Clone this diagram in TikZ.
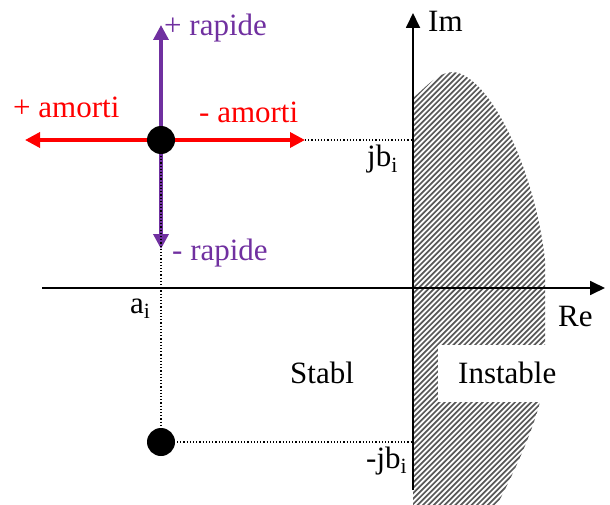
\documentclass[tikz,border=0pt]{standalone}
\usepackage{fontspec}
\setmainfont{Liberation Serif}
\usetikzlibrary{arrows.meta}
\definecolor{violetpp}{RGB}{112,48,160}
\begin{document}
\begin{tikzpicture}[x=1pt,y=-1pt,
  lbl/.style={inner sep=0pt,anchor=base west,font=\fontsize{31}{36}\selectfont},
  redarr/.style={draw=red,line width=3.5pt,-{Triangle[length=15pt,width=15pt]}},
  purarr/.style={draw=violetpp,line width=3.5pt,-{Triangle[length=15pt,width=15pt]}},
  axisline/.style={line width=1.8pt,-{Triangle[length=15pt,width=14pt]}},
  guide/.style={dotted,line width=1.2pt},
  hatchline/.style={line width=1.7pt,draw=black!65},
  pole/.style={circle,fill=black,minimum size=28pt,inner sep=0pt}]
\useasboundingbox (0,0) rectangle (610,505);
% unstable half-plane (hatched)
\begin{scope}
\clip (413,98) .. controls (425,88) and (438,72) .. (453,72)
 .. controls (490,75) and (535,170) .. (545,260) -- (545,345) -- (540,402)
 .. controls (530,440) and (510,480) .. (497,505) -- (413,505) -- cycle;
\foreach \k in {0,...,120} {
  \draw[hatchline] ({-100+5.4*\k},515) -- ++(460,-460);
}
\end{scope}
\fill[white] (438,345) rectangle (560,402);
% axes
\coordinate (O) at (413,288);
\coordinate (xL) at (42,288);
\coordinate (xR) at (605,288);
\coordinate (yB) at (413,490);
\coordinate (yT) at (413,13);
\draw[axisline] (xL) -- (xR);
\draw[axisline] (yB) -- (yT);
% poles and arrows
\coordinate (P1) at (161,140);
\coordinate (P2) at (161,442);
\coordinate (aL) at (25,140);
\coordinate (aR) at (305,140);
\coordinate (aU) at (161,25);
\coordinate (aD) at (161,249);
\coordinate (jT) at (413,140);
\coordinate (jB) at (413,442);
\draw[purarr] (P1) -- (aU);
\draw[purarr] (P1) -- (aD);
\draw[redarr] (P1) -- (aL);
\draw[redarr] (P1) -- (aR);
\draw[guide] (P1) -- (P2);
\draw[guide] (aR) -- (jT);
\draw[guide] (P2) -- (jB);
\node[pole] (p1) at (P1) {};
\node[pole] (p2) at (P2) {};
% labels
\node[lbl,text=violetpp] (lup) at (164,36) {+ rapide};
\node[lbl,text=violetpp] (ldn) at (172,260) {- rapide};
\node[lbl,text=red] (lpa) at (13,118) {+ amorti};
\node[lbl,text=red] (lma) at (199,123) {- amorti};
\node[lbl] (lim) at (428,32) {Im};
\node[lbl] (lre) at (558,326) {Re};
\node[lbl] (ljb) at (367,167) {jb\textsubscript{i}};
\node[lbl] (lmjb) at (366,468) {-jb\textsubscript{i}};
\node[lbl] (lai) at (130,313) {a\textsubscript{i}};
\node[lbl] (lst) at (290,383) {Stabl};
\node[lbl] (lin) at (458,383) {Instable};
\end{tikzpicture}
\end{document}
